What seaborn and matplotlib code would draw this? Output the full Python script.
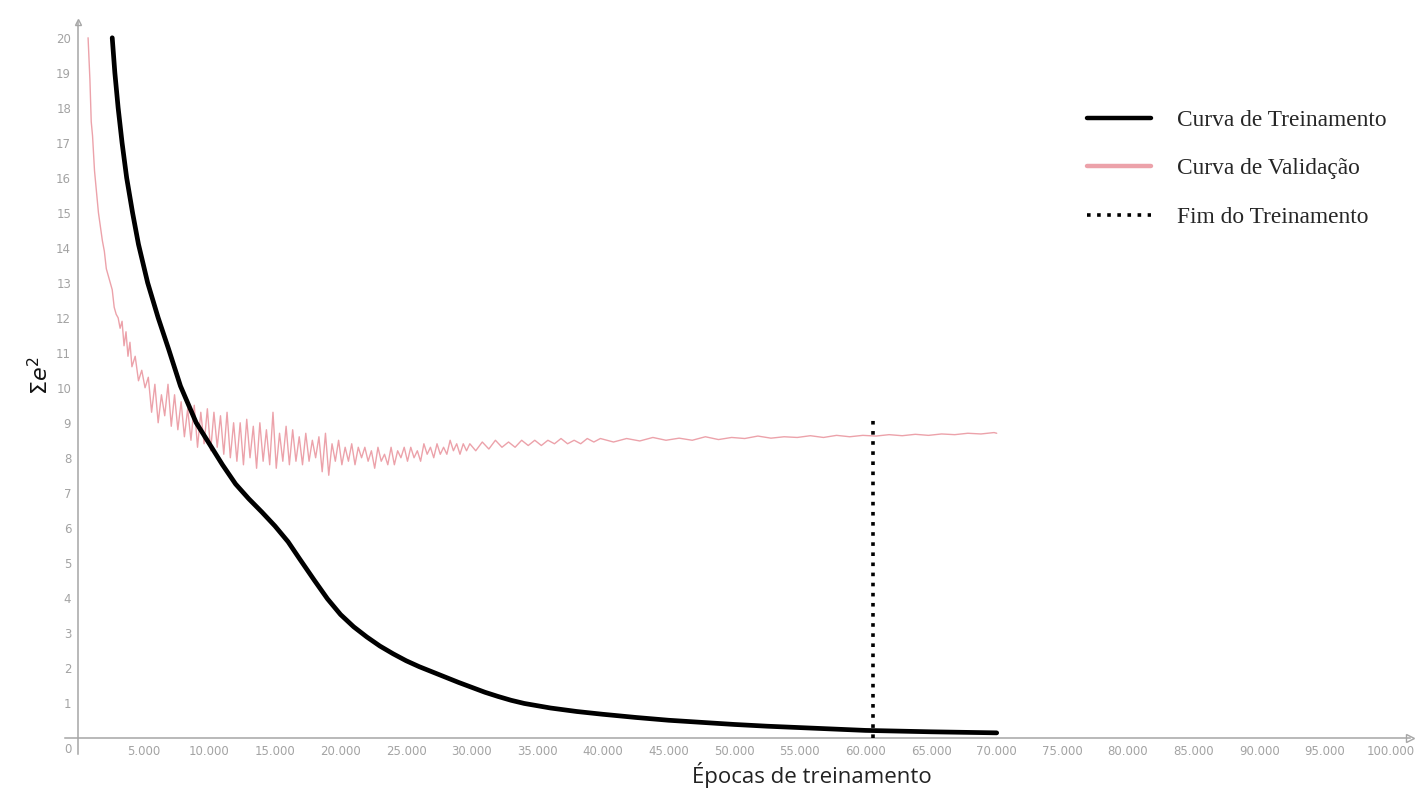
import seaborn as sns
import matplotlib
import matplotlib.pyplot as plt

# training curve (epochs, sum of squared errors)
train_epochs = [2600, 2800, 3050, 3350, 3700, 4150, 4600, 5300, 6100, 6900,
                7800, 9000, 10000, 11000, 12000, 13000, 14000, 15000, 16000, 16900,
                18000, 19000, 20000, 21000, 22000, 23000, 24000, 25000, 26000, 27000,
                28000, 29000, 30000, 31000, 32000, 33000, 34000, 36000, 38000, 40000,
                42500, 45000, 47500, 50000, 52500, 55000, 57500, 60000, 62500, 65000,
                67500, 70000]
train_error = [20.0, 19.0, 18.0, 17.0, 16.0, 15.0, 14.1, 13.0, 12.0, 11.1,
               10.05, 9.0, 8.4, 7.8, 7.25, 6.83, 6.45, 6.05, 5.6, 5.1,
               4.5, 3.97, 3.52, 3.17, 2.88, 2.62, 2.4, 2.2, 2.03, 1.88,
               1.73, 1.58, 1.44, 1.3, 1.18, 1.07, 0.98, 0.85, 0.75, 0.67,
               0.58, 0.5, 0.44, 0.38, 0.33, 0.29, 0.25, 0.21, 0.19, 0.17,
               0.155, 0.14]

# validation curve
val_epochs = [760, 900, 1000, 1100, 1250, 1400, 1550, 1700, 1850, 2000,
              2150, 2300, 2450, 2600, 2750, 2900, 3050, 3200, 3350, 3500,
              3650, 3800, 3950,
              4100, 4350, 4600, 4850, 5100, 5350, 5600, 5850, 6100, 6350,
              6600, 6850, 7100, 7350, 7600, 7850, 8100, 8350, 8600, 8850,
              9100, 9350, 9600, 9850, 10100, 10350, 10600, 10850, 11100, 11350,
              11600, 11850, 12100, 12350, 12600, 12850, 13100, 13350, 13600, 13850,
              14100, 14350, 14600, 14850, 15100, 15350, 15600, 15850, 16100, 16350,
              16600, 16850, 17100, 17350, 17600, 17850, 18100, 18350, 18600, 18850,
              19100, 19350, 19600, 19850, 20100, 20350, 20600, 20850, 21100, 21350,
              21600, 21850, 22100, 22350, 22600, 22850, 23100, 23350, 23600, 23850,
              24100, 24350, 24600, 24850, 25100, 25350, 25600, 25850, 26100, 26350,
              26600, 26850, 27100, 27350, 27600, 27850, 28100, 28350, 28600, 28850,
              29100, 29350, 29600, 29850,
              30300, 30800, 31300, 31800, 32300, 32800, 33300, 33800, 34300, 34800,
              35300, 35800, 36300, 36800, 37300, 37800, 38300, 38800, 39300, 39800,
              40800, 41800, 42800, 43800, 44800, 45800, 46800, 47800, 48800, 49800,
              50800, 51800, 52800, 53800, 54800, 55800, 56800, 57800, 58800, 59800,
              60800, 61800, 62800, 63800, 64800, 65800, 66800, 67800, 68800, 69800,
              70000]
val_error = [20.0, 18.8, 17.6, 17.2, 16.2, 15.6, 15.0, 14.6, 14.2, 13.9,
             13.4, 13.2, 13.0, 12.8, 12.3, 12.1, 12.0, 11.7, 11.9, 11.2,
             11.6, 10.9, 11.3,
             10.6, 10.9, 10.2, 10.5, 10.0, 10.3, 9.3, 10.1, 9.0, 9.8,
             9.2, 10.1, 8.9, 9.8, 8.8, 9.6, 8.6, 9.4, 8.5, 9.5,
             8.3, 9.3, 8.4, 9.4, 8.2, 9.3, 8.3, 9.2, 8.1, 9.3,
             8.0, 9.0, 7.9, 9.0, 7.8, 9.1, 8.0, 8.9, 7.7, 9.0,
             7.9, 8.8, 7.8, 9.3, 7.7, 8.7, 7.9, 8.9, 7.8, 8.8,
             7.9, 8.6, 7.8, 8.7, 7.9, 8.5, 8.0, 8.6, 7.6, 8.7,
             7.5, 8.4, 7.9, 8.5, 7.8, 8.3, 7.9, 8.4, 7.8, 8.3,
             8.0, 8.3, 7.9, 8.2, 7.7, 8.3, 7.9, 8.1, 7.8, 8.3,
             7.8, 8.2, 8.0, 8.3, 7.9, 8.3, 8.0, 8.2, 7.9, 8.4,
             8.1, 8.3, 8.0, 8.4, 8.1, 8.3, 8.1, 8.5, 8.2, 8.4,
             8.1, 8.4, 8.2, 8.4,
             8.2, 8.45, 8.25, 8.5, 8.3, 8.45, 8.3, 8.5, 8.35, 8.5,
             8.35, 8.5, 8.4, 8.55, 8.4, 8.5, 8.4, 8.55, 8.45, 8.55,
             8.45, 8.55, 8.48, 8.58, 8.5, 8.56, 8.5, 8.6, 8.52, 8.58,
             8.55, 8.62, 8.56, 8.6, 8.58, 8.63, 8.58, 8.64, 8.6, 8.64,
             8.62, 8.66, 8.63, 8.67, 8.64, 8.68, 8.66, 8.7, 8.68, 8.72,
             8.7]

stop_epoch = 60600
stop_top = 9.15

y_ticks = list(range(1, 21))
x_ticks = list(range(5000, 100001, 5000))
x_ticklabels = [f'{v:,}'.replace(',', '.') for v in x_ticks]

legend_labels = ['Curva de Treinamento', 'Curva de Validação', 'Fim do Treinamento']


def plot_curves():
    sns.set_style('white')
    fig = plt.figure(figsize=(14.22, 8.01), dpi=100)
    ax = fig.add_axes([0.0457, 0.0593, 0.9459, 0.9132])

    axis_gray = '#a6a6a6'

    sns.lineplot(x=val_epochs, y=val_error, color='#eca2aa', linewidth=1.0,
                 estimator=None, sort=False, label=legend_labels[1], ax=ax, zorder=2)
    sns.lineplot(x=train_epochs, y=train_error, color='black', linewidth=3.4,
                 estimator=None, sort=False, label=legend_labels[0], ax=ax, zorder=3)
    ax.plot([stop_epoch, stop_epoch], [0, stop_top], color='black', linewidth=2.6,
            linestyle=(0, (1, 1.8)), label=legend_labels[2], zorder=4)

    ax.set_xlim(-1000, 101500)
    ax.set_ylim(-0.45, 20.45)

    # axes through the origin, grey like the original
    for s in ['top', 'right']:
        ax.spines[s].set_visible(False)
    ax.spines['left'].set_position(('data', 0))
    ax.spines['bottom'].set_position(('data', 0))
    for s in ['left', 'bottom']:
        ax.spines[s].set_color(axis_gray)
        ax.spines[s].set_linewidth(1.1)

    ax.set_yticks(y_ticks)
    ax.set_xticks(x_ticks)
    ax.set_xticklabels(x_ticklabels)
    ax.tick_params(axis='both', direction='inout', length=4, width=0.8,
                   color=axis_gray, labelcolor='#a3a3a3', labelsize=8.5, pad=3)
    ax.annotate('0', xy=(0, 0), xytext=(-5, -4), textcoords='offset points',
                ha='right', va='top', fontsize=8.5, color='#a3a3a3')

    # little arrow heads at the end of the axes
    ax.plot(1, 0, marker='>', ms=6, mfc='white', mec=axis_gray,
            transform=ax.get_yaxis_transform(), clip_on=False)
    ax.plot(0, 1, marker='^', ms=5, mfc='white', mec=axis_gray,
            transform=ax.get_xaxis_transform(), clip_on=False)

    ax.set_xlabel('Épocas de treinamento', fontsize=16, family='Open Sans',
                  color='#222222', va='center')
    ax.xaxis.set_label_coords(0.555, -0.029)
    ax.set_ylabel('Σ$e^2$', fontsize=16, color='#111111', va='center')
    ax.yaxis.set_label_coords(-0.0186, 0.517)

    handles, labels = ax.get_legend_handles_labels()
    order = [labels.index(l) for l in legend_labels]
    leg = fig.legend([handles[i] for i in order], [labels[i] for i in order],
                     loc='upper left', bbox_to_anchor=(0.7644, 0.863),
                     frameon=False, borderpad=0, borderaxespad=0,
                     handlelength=2.75, handletextpad=1.1, labelspacing=1.16,
                     prop={'family': 'Liberation Serif', 'size': 16.8})
    for h in leg.get_lines():
        h.set_linewidth(3.2)
    leg.get_lines()[2].set_linewidth(2.6)
    ax.get_legend().remove()

    plt.savefig('out.png', dpi=100)


if __name__ == '__main__':
    plot_curves()
